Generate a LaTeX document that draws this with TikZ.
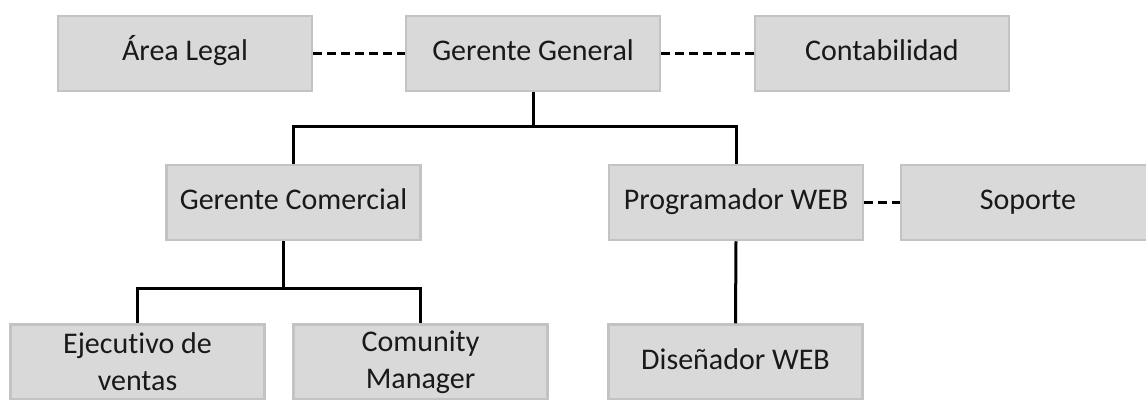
\documentclass[tikz,border=0pt]{standalone}
\usepackage{fontspec}
\setmainfont{Carlito}[Ligatures=NoCommon]
\usetikzlibrary{calc}

\definecolor{boxfill}{HTML}{D9D9D9}
\definecolor{boxline}{HTML}{C3C3C3}

\tikzset{
  puesto/.style={draw=boxline, fill=boxfill, line width=2.5pt, minimum width=254pt, minimum height=75pt, inner sep=2pt, align=center, font=\fontsize{30}{37}\selectfont, text=black!90},
  unalinea/.style={puesto, text height=21pt, text depth=7pt},
  linea/.style={black, line width=3pt},
  apoyo/.style={black, line width=3pt, dash pattern=on 9pt off 5pt}
}

\begin{document}
\begin{tikzpicture}[x=1pt,y=-1pt]

\useasboundingbox (0,0) rectangle (1146,399);

\node[unalinea] (legal) at (185,53.5) {Área Legal};
\node[unalinea] (general) at (533,53.5) {Gerente General};
\node[unalinea] (conta) at (882,53.5) {Contabilidad};

\node[unalinea] (comercial) at (293.5,202.5) {Gerente Comercial};
\node[unalinea] (prog) at (736,202.5) {Programador WEB};
\node[unalinea] (soporte) at (1028,202.5) {Soporte};

\node[puesto] (ejec) at (137.5,362) {Ejecutivo de\\ventas};
\node[puesto] (comu) at (420.5,362) {Comunity\\Manager};
\node[unalinea] (dise) at (735.5,362) {Diseñador WEB};

\coordinate (j1) at (533,126);
\coordinate (j2) at (283,288);

\draw[apoyo] (legal.east) -- (general.west);
\draw[apoyo] (general.east) -- (conta.west);
\draw[apoyo] (prog.east) -- (soporte.west);

\draw[linea] (general.south) -- (j1);
\draw[linea] (comercial.north) |- (j1) -| (prog.north);
\draw[linea] (j2 |- comercial.south) -- (j2);
\draw[linea] (ejec.north) |- (j2) -| (comu.north);
\draw[linea] (prog.south) -- (dise.north);

\end{tikzpicture}
\end{document}
